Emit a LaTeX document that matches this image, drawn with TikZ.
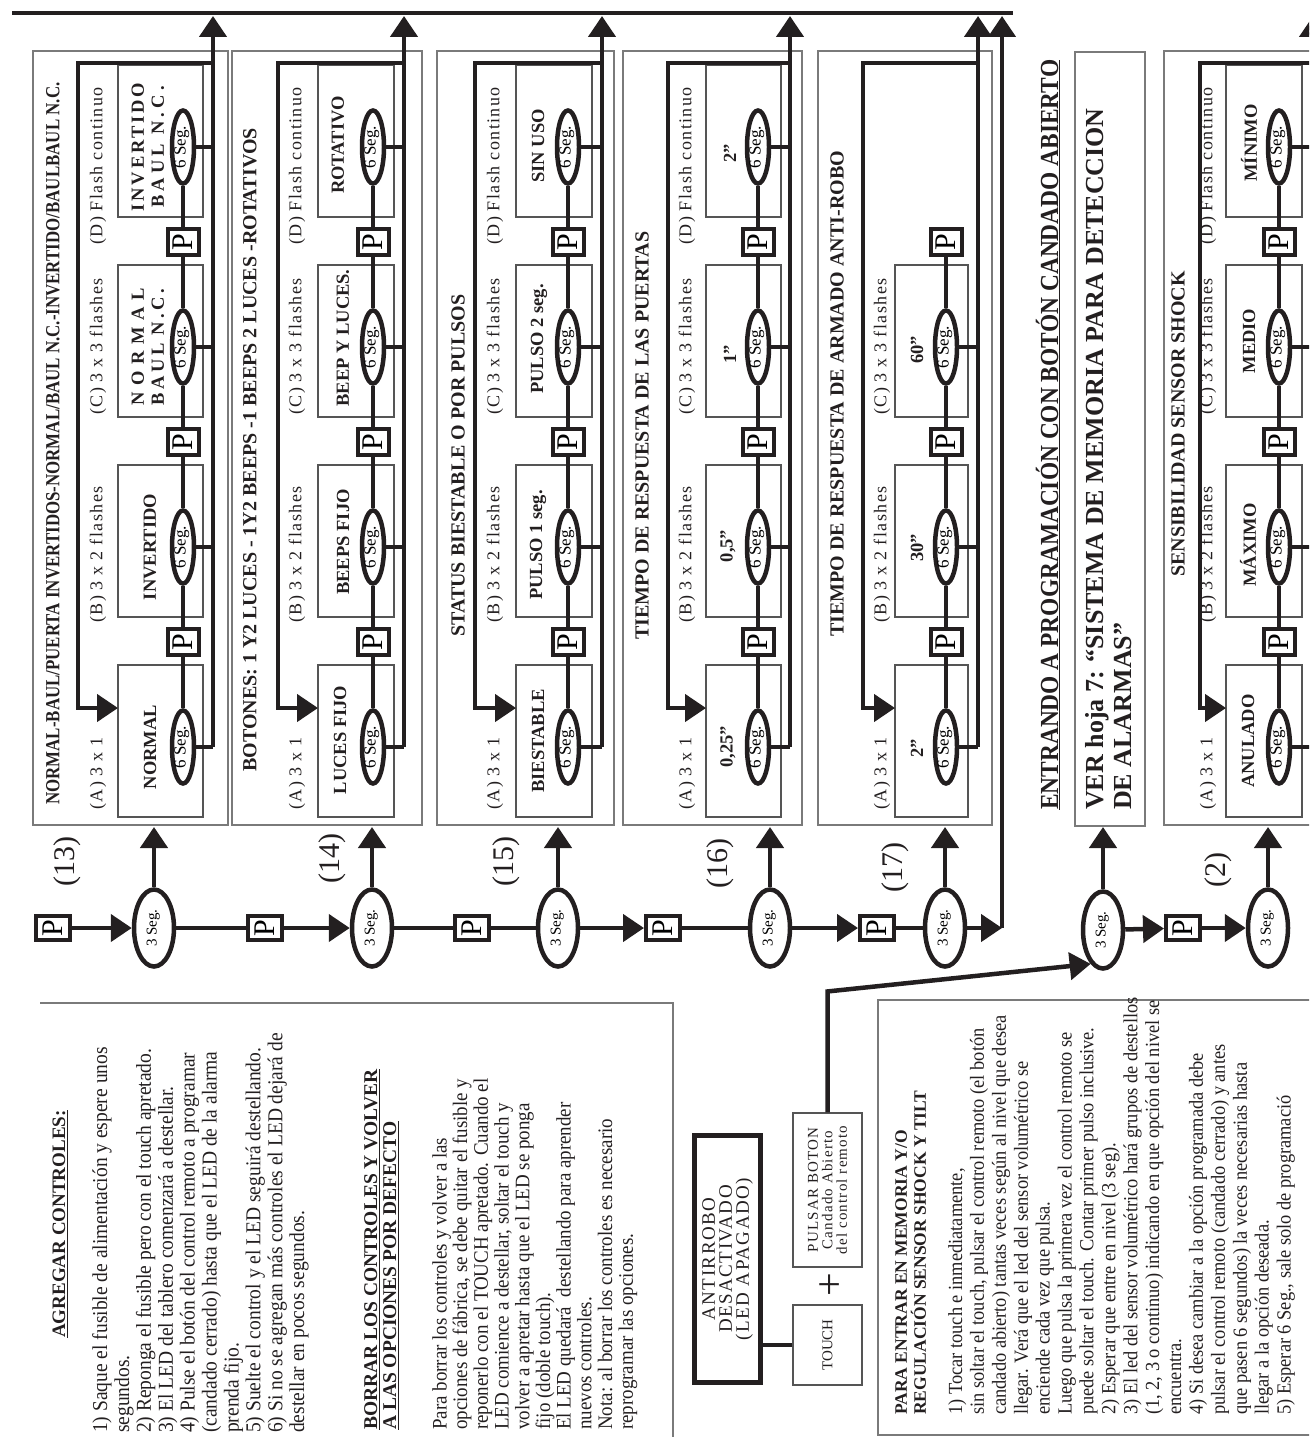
\documentclass[tikz,border=0pt]{standalone}
\usepackage{fontspec}
\setmainfont{Liberation Serif}
\newfontfamily\spaced[LetterSpace=8]{Liberation Serif}
\newfontfamily\narrow[FakeStretch=0.92]{Liberation Serif}
\usetikzlibrary{positioning,arrows.meta,shapes.geometric,calc}
\definecolor{ink}{HTML}{231F20}
\definecolor{rule}{HTML}{7A7A7A}
\definecolor{optrule}{HTML}{555555}
\lineskiplimit=-100pt
\tikzset{
  flow/.style    = {draw=ink, line width=4.5pt},
  arr/.style     = {flow, -{Triangle[length=21pt,width=27pt]}},
  rim/.style     = {draw=rule, line width=1.3pt},
  optbox/.style  = {draw=optrule, line width=1.1pt},
  vtxt/.style    = {rotate=90, inner sep=0pt, text=ink},
  heading/.style = {vtxt, anchor=west, font=\bfseries\fontsize{20}{22}\selectfont},
  tag/.style     = {vtxt, anchor=west, font=\spaced\fontsize{18}{18}\selectfont},
  val/.style     = {vtxt, align=center, font=\bfseries\fontsize{18.5}{20}\selectfont},
  num/.style     = {vtxt, font=\fontsize{30}{30}\selectfont},
  para/.style    = {vtxt, anchor=north west, align=left},
  pbox/.style    = {rectangle, draw=ink, line width=4pt, fill=white, rotate=90, inner sep=0pt,
                    minimum width=24pt, minimum height=34pt, font=\fontsize{30}{30}\selectfont},
  pin/.style     = {pbox, minimum width=26pt, minimum height=31pt},
  seg3/.style    = {ellipse, draw=ink, line width=4.5pt, fill=white, rotate=90, inner sep=0pt,
                    text height=8pt, text depth=3pt, minimum width=77pt, minimum height=40pt,
                    font=\fontsize{15}{15}\selectfont},
  seg6/.style    = {seg3, minimum width=73pt, minimum height=22pt, font=\fontsize{17}{17}\selectfont},
  card/.style    = {rectangle, draw=optrule, line width=1.1pt, rotate=90, inner sep=0pt,
                    align=center, text=ink},
}

\begin{document}
\begin{tikzpicture}[x=1pt, y=-1pt]
  \useasboundingbox (0,0) rectangle (1309,1437);
  \clip (0,0) rectangle (1309,1437);
  \draw[flow] (12,13) -- (1013,13);

  % option columns
  \foreach \r/\m/\bl/\br/\lp/\il/\ir/\rx/\lx/\n in {
      13/183/33/228/78/118/203/213/98/4, 14/373/232/422/278/318/394/404/297/4,
      15/568/437/614/475/516/592/602/495/4, 16/758/623/802/668/706/781/790/687/4,
      17/946/818/992/863/895/968/978/882/3, 2/1279/1164/1345/1200/1226/1302/1313/1208/4}{
    \draw[rim] (\bl,51) rectangle (\br,825);
    \foreach \k in {1,...,\n}{
      \draw[optbox] (\il,{865-200*\k}) rectangle (\ir,{1017-200*\k});
      \node[seg6] (e\r-\k) at (\m,{947-200*\k}) {6 Seg.};
      \draw[flow] (e\r-\k) -- (\rx,{947-200*\k});
    }
    \foreach \k in {1,2,3}{
      \node[pin] (q\r-\k) at (\m,{842-200*\k}) {P};
      \draw[flow] (e\r-\k) -- (q\r-\k);
    }
    \foreach \k in {2,...,\n}{
      \pgfmathtruncatemacro\j{\k-1}
      \draw[flow] (q\r-\j) -- (e\r-\k);
    }
    \foreach \k/\ly/\lt in {1/810/{(A) 3 x 1}, 2/623/{(B) 3 x 2 flashes},
                            3/415/{(C) 3 x 3 flashes}, 4/245/{(D) Flash continuo}}{
      \ifnum\k>\n\else\node[tag] at (\lx,\ly) {\lt};\fi}
    \draw[arr] (\rx,747) -- (\rx,16);
    \draw[arr] (\rx,63) -| (\lp,708) -- (\il,708);
  }

  \foreach \x/\y/\ttl in {
      53/805/{\scalebox{0.845}[1]{NORMAL-BAUL/PUERTA INVERTIDOS-NORMAL/BAUL N.C.-INVERTIDO/BAULBAUL N.C.}},
      250/772/{BOTONES: 1 Y2 LUCES - 1Y2 BEEPS -1 BEEPS 2 LUCES -ROTATIVOS},
      458/637/{STATUS BIESTABLE O POR PULSOS},
      642/640/{TIEMPO DE RESPUESTA DE LAS PUERTAS},
      837/637/{TIEMPO DE RESPUESTA DE ARMADO ANTI-ROBO},
      1178/577/{SENSIBILIDAD SENSOR SHOCK}}
    \node[heading] at (\x,\y) {\ttl};

  \foreach \x/\y/\val in {
      150/747/NORMAL, 150/547/INVERTIDO,
      148/347/{{\addfontfeatures{LetterSpace=36}NORMAL}\\{\addfontfeatures{LetterSpace=19}BAUL N.C.}},
      148/147/{{\addfontfeatures{LetterSpace=15}INVERTIDO}\\{\addfontfeatures{LetterSpace=23}BAUL N.C.}},
      340/740/LUCES FIJO, 343/542/BEEPS FIJO, 343/338/BEEP Y LUCES., 338/145/ROTATIVO,
      538/741/BIESTABLE, 538/545/PULSO 1 seg., 539/339/PULSO 2 seg., 538/146/SIN USO,
      728/747/{0,25”}, 728/546/{0,5”}, 730/354/1”, 730/153/2”,
      917/748/2”, 917/548/30”, 917/350/60”,
      1248/741/ANULADO, 1248/545/MÁXIMO, 1249/341/MEDIO, 1249/143/MÍNIMO}
    \node[val] at (\x,\y) {\val};

  \foreach \x/\y/\ttl in {67/861/13, 332/858/14, 506/861/15, 720/863/16, 895/867/17, 1218/870/2}
    \node[num] at (\x,\y) {(\ttl)};

  % main sequence
  \node[pbox] (p0) at (53,928) {P};
  \node[seg3] (s13) at (154,928) {3 Seg.};
  \node[pbox] (p1) at (265,928) {P};
  \node[seg3] (s14) at (372,928) {3 Seg.};
  \node[pbox] (p2) at (472,928) {P};
  \node[seg3] (s15) at (558,928) {3 Seg.};
  \node[pbox] (p3) at (663,928) {P};
  \node[seg3] (s16) at (770,928) {3 Seg.};
  \node[pbox] (p4) at (877,928) {P};
  \node[seg3] (s17) at (945,928) {3 Seg.};
  \coordinate (c17) at (1002,928);
  \node[seg3] (sV) at (1103,930) {3 Seg.};
  \node[pbox] (p5) at (1183,928) {P};
  \node[seg3] (s2) at (1268,928) {3 Seg.};

  \draw[arr] (p0) -- (s13);
  \draw[flow] (s13) -- (p1);
  \draw[arr] (p1) -- (s14);
  \draw[flow] (s14) -- (p2);
  \draw[flow] (p2) -- (s15);
  \draw[arr] (s15) -- (p3);
  \draw[flow] (p3) -- (s16);
  \draw[arr] (s16) -- (p4);
  \draw[flow] (p4) -- (s17);
  \draw[arr] (s17) -- (c17);
  \draw[arr] (c17) -- (1002,16);
  \draw[arr] (sV) -- (p5);
  \draw[arr] (p5) -- (s2);
  \foreach \s/\x in {s13/154, s14/372, s15/558, s16/770, s17/945, sV/1103, s2/1268}
    \draw[arr] (\s) -- (\x,827);

  % memory page
  \node[heading, font=\bfseries\fontsize{26}{28}\selectfont] (entr) at (1048,810)
    {\scalebox{0.9}[1]{\underline{ENTRANDO A PROGRAMACIÓN CON BOTÓN CANDADO ABIERTO}}};
  \draw[rim] (1075,52) rectangle (1145,826);
  \node[para, font=\bfseries\fontsize{26}{28}\selectfont] (ver) at (1085,810)
    {VER hoja 7: “SISTEMA DE MEMORIA PARA DETECCION\\DE ALARMAS”};

  % text blocks
  \draw[rim] (40,1003) -- (673,1003) -- (673,1445);
  \node[heading, font=\bfseries\fontsize{19}{21}\selectfont] (hdrA) at (60,1338)
    {\underline{AGREGAR CONTROLES:}};
  \node[para, font=\narrow\fontsize{21.2}{21.9}\selectfont] (bodyA) at (92,1433)
    {1) Saque el fusible de alimentación y espere unos\\
     segundos.\\
     2) Reponga el fusible pero con el touch apretado.\\
     3) El LED del tablero comenzará a destellar.\\
     4) Pulse el botón del control remoto a programar\\
     (candado cerrado) hasta que el LED de la alarma\\
     prenda fijo.\\
     5) Suelte el control y el LED seguirá destellando.\\
     6) Si no se agregan más controles el LED dejará de\\
     destellar en pocos segundos.};
  \node[para, font=\bfseries\fontsize{19.5}{19}\selectfont] (hdrB) at (364,1430)
    {\underline{BORRAR LOS CONTROLES Y VOLVER}\\\underline{A LAS OPCIONES POR DEFECTO}};
  \node[para, font=\narrow\fontsize{20.6}{20.7}\selectfont] (bodyB) at (432,1430)
    {Para borrar los controles y volver a las\\
     opciones de fábrica, se debe quitar el fusible y\\
     reponerlo con el TOUCH apretado. Cuando el\\
     LED comience a destellar, soltar el touch y\\
     volver a apretar hasta que el LED se ponga\\
     fijo (doble touch).\\
     El LED quedará\ \ destellando para aprender\\
     nuevos controles.\\
     Nota: al borrar los controles es necesario\\
     reprogramar las opciones.};

  \node[card, draw=ink, line width=5pt, minimum width=247pt, minimum height=66pt,
        font=\spaced\fontsize{19}{17}\selectfont] (anti) at (727.5,1259)
    {ANTIRROBO\\DESACTIVADO\\(LED APAGADO)};
  \node[card, minimum width=80pt, minimum height=69pt, font=\fontsize{15}{17}\selectfont]
    (touch) at (827.5,1345) {TOUCH};
  \node[card, minimum width=154pt, minimum height=69pt, font=\spaced\fontsize{15}{14.5}\selectfont]
    (pulsar) at (827.5,1190) {PULSAR BOTON\\Candado Abierto\\del control remoto};
  \node[vtxt, font=\fontsize{42}{42}\selectfont] (plus) at (832,1285) {+};
  \draw[flow] (touch.north) -- (touch.north -| anti.south);
  \draw[arr] (pulsar.east) -- ++(0,-121) -- (sV.160);

  \draw[rim] (1320,1000) -- (878,1000) -- (878,1435) -- (1320,1435);
  \node[para, font=\bfseries\fontsize{17.5}{19}\selectfont] (hdrC) at (895,1415)
    {PARA ENTRAR EN MEMORIA Y/O\\REGULACIÓN SENSOR SHOCK Y TILT};
  \node[para, font=\narrow\fontsize{20}{21.9}\selectfont] (bodyC) at (948,1415)
    {1) Tocar touch e inmediatamente,\\
     sin soltar el touch, pulsar el control remoto (el botón\\
     candado abierto) tantas veces según al nivel que desea\\
     llegar. Verá que el led del sensor volumétrico se\\
     enciende cada vez que pulsa.\\
     Luego que pulsa la primera vez el control remoto se\\
     puede soltar el touch. Contar primer pulso inclusive.\\
     2) Esperar que entre en nivel (3 seg).\\
     3) El led del sensor volumétrico hará grupos de destellos\\
     (1, 2, 3 o continuo) indicando en que opción del nivel se\\
     encuentra.\\
     4) Si desea cambiar a la opción programada debe\\
     pulsar el control remoto (candado cerrado) y antes\\
     que pasen 6 segundos) la veces necesarias hasta\\
     llegar a la opción deseada.\\
     5) Esperar 6 Seg., sale solo de programació};
\end{tikzpicture}
\end{document}
